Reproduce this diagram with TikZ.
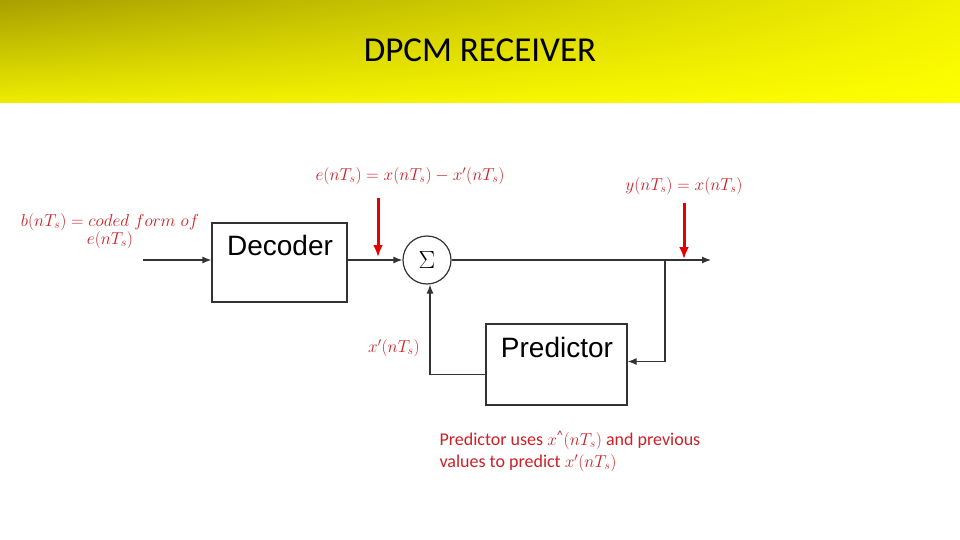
\documentclass[tikz,border=0pt]{standalone}
\usepackage[no-math]{fontspec}
\setmainfont{Liberation Sans}
\newfontfamily\calfont{Carlito}
\usepackage{amsmath}
\usetikzlibrary{arrows.meta,positioning,shadings}
\definecolor{labred}{RGB}{205,32,38}
\definecolor{arrred}{RGB}{228,0,0}
\definecolor{barlo}{RGB}{168,160,0}
\definecolor{barhi}{RGB}{255,255,0}
\begin{document}
\begin{tikzpicture}[x=1pt,y=-1pt,>={Latex[length=9pt,width=7pt]},
  blk/.style={draw=black!80,line width=1.2pt,minimum width=135pt,minimum height=79pt},
  wire/.style={black!80,line width=1.2pt},
  lab/.style={text=labred,font=\fontsize{18.5}{21}\selectfont},
  redarr/.style={arrred,line width=3pt,-{Latex[length=12pt,width=10pt]}}]
\useasboundingbox[fill=white] (0,0) rectangle (960,540);
% title bar
\shade[upper left=barlo,upper right=barhi!85!barlo,lower left=barhi!80!barlo,lower right=barhi]
  (0,0) rectangle (960,103);
\node[font=\calfont\fontsize{35}{40}\selectfont] (title) at (480,50) {DPCM RECEIVER};
% blocks
\node[blk] (dec) at (279.5,262.5) {};
\node[font=\fontsize{28}{32}\selectfont] at (280,245) {Decoder};
\node[draw=black!80,line width=1.2pt,circle,minimum size=48pt,inner sep=0pt,font=\fontsize{24}{26}\selectfont] (sum) at (427,260) {$\Sigma$};
\node[blk,minimum width=141pt,minimum height=81pt] (pred) at (556.5,364.5) {};
\node[font=\fontsize{28}{32}\selectfont] at (557,347) {Predictor};
% connectors
\coordinate (in) at (143,260);
\coordinate (tap) at (665,260);
\coordinate (out) at (711,260);
\draw[wire,->] (in) -- (dec.west |- in);
\draw[wire,->] (dec.east |- sum) -- (sum);
\draw[wire,->] (sum) -- (out);
\draw[wire,->] (tap) |- ([yshift=3pt]pred.east);
\draw[wire,->] ([yshift=-10pt]pred.west) -| ([xshift=3pt]sum.south);
% labels
\node[lab] (elab) at (410,176) {$e(nT_s) = x(nT_s) - x'(nT_s)$};
\node[lab] (ylab) at (684,186) {$y(nT_s) = x(nT_s)$};
\node[lab,align=center] (blab) at (110,231) {$b(nT_s) = coded\ form\ of$\\[-3pt] $e(nT_s)$};
\node[lab] (xlab) at (394,348) {$x'(nT_s)$};
\node[lab,anchor=north west,align=left,font=\calfont\fontsize{18}{22}\selectfont] (note) at (436,427)
  {Predictor uses $x^{\text{\textasciicircum}}(nT_s)$ and previous\\values to predict $x'(nT_s)$};
% red markers
\draw[redarr] (378,198) -- (378,257);
\draw[redarr] (684,203) -- (684,259);
\end{tikzpicture}
\end{document}
